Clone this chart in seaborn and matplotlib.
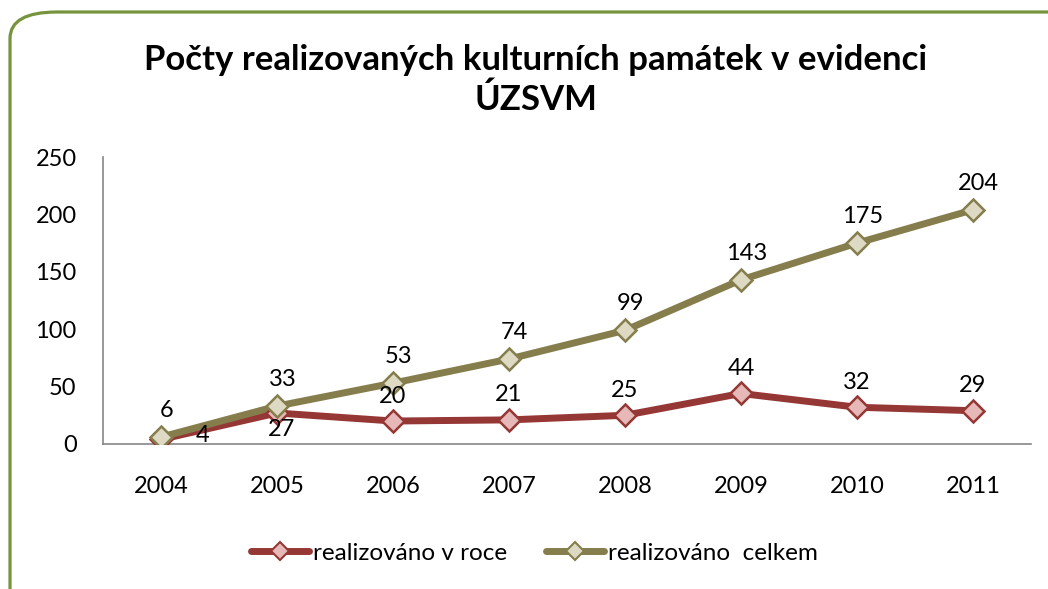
import numpy as np
import pandas as pd
import seaborn as sns
import matplotlib.pyplot as plt
from matplotlib.patches import FancyBboxPatch

# data
years = [2004, 2005, 2006, 2007, 2008, 2009, 2010, 2011]
v_roce = [4, 27, 20, 21, 25, 44, 32, 29]
celkem = [6, 33, 53, 74, 99, 143, 175, 204]
series_names = ["realizováno v roce", "realizováno  celkem"]

df = pd.DataFrame({
    "rok": years * 2,
    "hodnota": v_roce + celkem,
    "serie": [series_names[0]] * len(years) + [series_names[1]] * len(years),
})

sns.set_style("white")
plt.rcParams["font.family"] = ["Lato", "DejaVu Sans"]
plt.rcParams["text.color"] = "black"

red, red_fill = "#953735", "#E6B9B8"
olive, olive_fill = "#857D4C", "#DDD9C3"
grey = "#868686"

fig = plt.figure(figsize=(10.48, 5.89), dpi=100)
ax = fig.add_axes([0.0983, 0.2462, 0.8855, 0.4872])

# rounded green frame
frame = FancyBboxPatch((10 / 1048, -0.2), 1.2, 1 - 12 / 589 + 0.2, transform=fig.transFigure,
                       boxstyle="round,pad=0,rounding_size=0.045", fc="none",
                       ec="#77933C", lw=2.3, clip_on=False, zorder=0)
fig.patches.append(frame)

sns.lineplot(data=df, x="rok", y="hodnota", hue="serie", palette=[red, olive],
             ax=ax, lw=5, legend=False, zorder=3)
for s, fc, ec in [(series_names[0], red_fill, red), (series_names[1], olive_fill, olive)]:
    sub = df[df.serie == s]
    ax.plot(sub.rok, sub.hodnota, ls="none", marker="D", ms=11, mfc=fc, mec=ec,
            mew=1.8, zorder=4)

# data labels
fs = 17
red_off = [(30, 3), (3, -12), (0, 18), (0, 18), (0, 18), (0, 18), (0, 18), (0, 18)]
for x, y, off in zip(years, v_roce, red_off):
    ax.annotate(str(y), (x, y), xytext=off, textcoords="offset points",
                ha="center", va="center", fontsize=fs, color="black", zorder=5)
for x, y in zip(years, celkem):
    ax.annotate(str(y), (x, y), xytext=(4, 19), textcoords="offset points",
                ha="center", va="center", fontsize=fs, color="black", zorder=5)

ax.set_xlim(2003.5, 2011.5)
ax.set_ylim(0, 250)
ax.set_yticks(range(0, 251, 50))
ax.set_xticks(years)
ax.set_xticks(np.arange(2003.5, 2012, 1), minor=True)
ax.tick_params(axis="x", which="major", length=0, pad=23, labelsize=fs, labelcolor="black")
ax.tick_params(axis="x", which="minor", length=6, width=1.2, color=grey, direction="out")
ax.tick_params(axis="y", length=6, width=1.2, color=grey, direction="out", pad=13,
               labelsize=fs, labelcolor="black")
ax.set_xlabel("")
ax.set_ylabel("")
for sp in ["top", "right"]:
    ax.spines[sp].set_visible(False)
for sp in ["left", "bottom"]:
    ax.spines[sp].set_color(grey)
    ax.spines[sp].set_linewidth(1.2)

fig.text(0.511, 1 - 80 / 589, "Počty realizovaných kulturních památek v evidenci\nÚZSVM",
         ha="center", va="center", fontsize=25, fontweight="bold", linespacing=1.25,
         color="black")

handles = [plt.Line2D([], [], color=c, lw=5, marker="D", ms=9, mfc=fc, mec=c, mew=1.5)
           for c, fc in [(red, red_fill), (olive, olive_fill)]]
fig.legend(handles, series_names, loc="center", bbox_to_anchor=(0.51, 1 - 553 / 589),
           ncol=2, frameon=False, fontsize=17.5, handlelength=2.4, handletextpad=0.15,
           columnspacing=1.6, labelcolor="black")

fig.savefig("out.png", dpi=100)
